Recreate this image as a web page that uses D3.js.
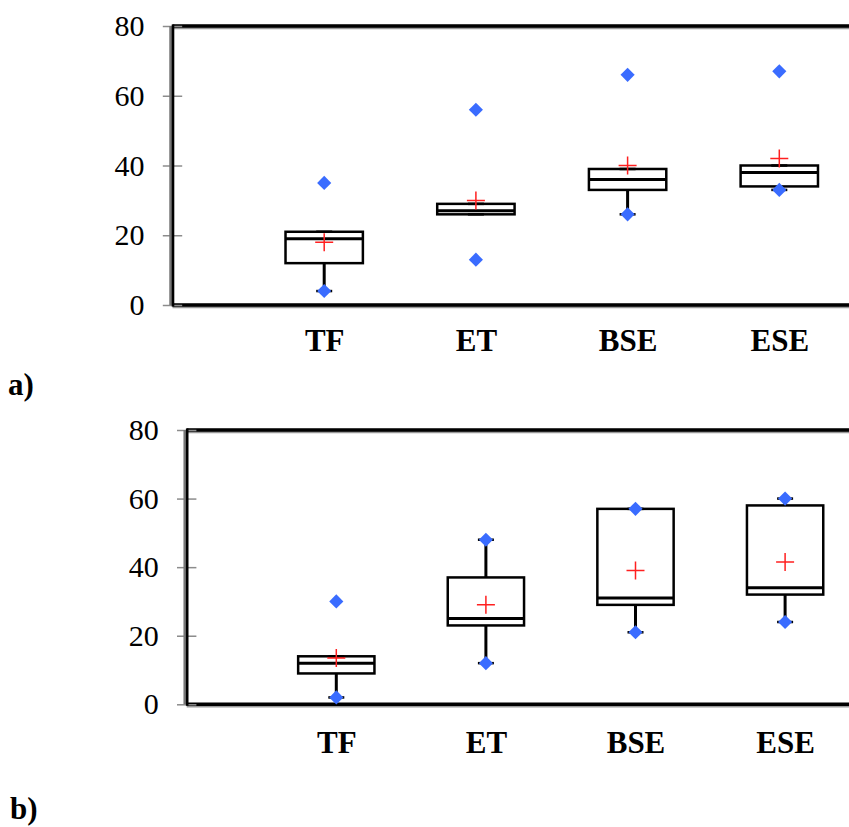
<!DOCTYPE html>
<html>
<head>
<meta charset="utf-8">
<script src="https://cdn.jsdelivr.net/npm/d3@7"></script>
<style>
  html, body { margin: 0; padding: 0; background: #fff; }
  svg { display: block; }
  text { font-family: "Liberation Serif", "Times New Roman", Times, serif; fill: #000; }
</style>
</head>
<body>
<svg id="svg" width="849" height="827"></svg>
<script>
const categories = ['TF', 'ET', 'BSE', 'ESE'];
const yTicks = [0, 20, 40, 60, 80];

// panel a)
const aMin = [4, 13, 26, 33];
const aMax = [35, 56, 66, 67];
const aQ1 = [12, 26, 33, 34];
const aMedian = [19, 27, 36, 38];
const aQ3 = [21, 29, 39, 40];
const aMean = [18, 30, 40, 42];
const aWhiskerLow = [4, 26, 26, 33];
const aWhiskerHigh = [21, 29, 39, 40];

// panel b)
const bMin = [2, 12, 21, 24];
const bMax = [30, 48, 57, 60];
const bQ1 = [9, 23, 29, 32];
const bMedian = [12, 25, 31, 34];
const bQ3 = [14, 37, 57, 58];
const bMean = [13.5, 29, 39, 41.5];
const bWhiskerLow = [2, 12, 21, 24];
const bWhiskerHigh = [14, 48, 57, 60];

const FONT = '"Liberation Serif", "Times New Roman", Times, serif';
const svg = d3.select('#svg');

drawPanel({
  tag: 'a)', tagX: 8, tagY: 395,
  axisX: 172.5, top: 26, bottom: 305, step: 151.7, labelY: 351,
  min: aMin, max: aMax, q1: aQ1, median: aMedian, q3: aQ3, mean: aMean,
  wLow: aWhiskerLow, wHigh: aWhiskerHigh,
});

drawPanel({
  tag: 'b)', tagX: 10, tagY: 819,
  axisX: 186.7, top: 430, bottom: 704.3, step: 149.6, labelY: 753,
  min: bMin, max: bMax, q1: bQ1, median: bMedian, q3: bQ3, mean: bMean,
  wLow: bWhiskerLow, wHigh: bWhiskerHigh,
});

function drawPanel(p) {
  const g = svg.append('g');
  const y = d3.scaleLinear().domain([0, 80]).range([p.bottom, p.top]);
  const x = d3.scalePoint().domain(categories)
    .range([p.axisX, p.axisX + 5 * p.step]).padding(1);
  const half = p.step * 0.255;

  const rows = categories.map((c, i) => ({
    cat: c, min: p.min[i], max: p.max[i], q1: p.q1[i], median: p.median[i],
    q3: p.q3[i], mean: p.mean[i], wLow: p.wLow[i], wHigh: p.wHigh[i],
  }));

  // frame: top and bottom rules (open on the right)
  [p.top, p.bottom].forEach(yy => {
    g.append('line').attr('x1', p.axisX).attr('x2', 849)
      .attr('y1', yy + 1).attr('y2', yy + 1)
      .attr('stroke', '#999').attr('stroke-width', 4.5);
    g.append('line').attr('x1', p.axisX).attr('x2', 849)
      .attr('y1', yy).attr('y2', yy)
      .attr('stroke', '#000').attr('stroke-width', 3.6);
  });

  // y axis with ticks crossing the spine
  const yAxis = g.append('g')
    .attr('transform', `translate(${p.axisX + 9.7},0)`)
    .call(d3.axisLeft(y).tickValues(yTicks).tickSize(19.4).tickPadding(18.3));
  yAxis.attr('font-family', null).attr('font-size', null);
  yAxis.select('.domain').remove();
  yAxis.selectAll('.tick line').attr('stroke', '#8c8c8c').attr('stroke-width', 1.5);
  yAxis.selectAll('.tick text').style('font-size', '30px').style('font-family', FONT);

  g.append('line').attr('x1', p.axisX - 1).attr('x2', p.axisX - 1)
    .attr('y1', p.top).attr('y2', p.bottom)
    .attr('stroke', '#777').attr('stroke-width', 4.5);
  g.append('line').attr('x1', p.axisX + 0.5).attr('x2', p.axisX + 0.5)
    .attr('y1', p.top - 1.5).attr('y2', p.bottom + 1.5)
    .attr('stroke', '#000').attr('stroke-width', 2.6);

  // category labels
  const xAxis = g.append('g')
    .attr('transform', `translate(0,${p.labelY})`)
    .call(d3.axisBottom(x).tickSize(0).tickPadding(0));
  xAxis.attr('font-family', null).attr('font-size', null);
  xAxis.select('.domain').remove();
  xAxis.selectAll('.tick text')
    .attr('y', 0).attr('dy', 0)
    .style('font-size', '31px').style('font-weight', 'bold').style('font-family', FONT);

  // panel tag
  g.append('text').attr('x', p.tagX).attr('y', p.tagY)
    .style('font-size', '31px').style('font-weight', 'bold').style('font-family', FONT)
    .text(p.tag);

  const box = g.append('g').selectAll('g').data(rows).join('g');

  // whiskers
  box.append('line')
    .attr('x1', d => x(d.cat)).attr('x2', d => x(d.cat))
    .attr('y1', d => y(d.q1)).attr('y2', d => y(d.wLow))
    .attr('stroke', '#000').attr('stroke-width', 3);
  box.append('line')
    .attr('x1', d => x(d.cat)).attr('x2', d => x(d.cat))
    .attr('y1', d => y(d.q3)).attr('y2', d => y(d.wHigh))
    .attr('stroke', '#000').attr('stroke-width', 3);
  // caps
  box.selectAll('line.cap')
    .data(d => [{ cat: d.cat, v: d.wLow }, { cat: d.cat, v: d.wHigh }])
    .join('line').attr('class', 'cap')
    .attr('x1', d => x(d.cat) - 8).attr('x2', d => x(d.cat) + 8)
    .attr('y1', d => y(d.v)).attr('y2', d => y(d.v))
    .attr('stroke', '#000').attr('stroke-width', 2.5);

  // box
  box.append('rect')
    .attr('x', d => x(d.cat) - half).attr('width', half * 2)
    .attr('y', d => y(d.q3)).attr('height', d => y(d.q1) - y(d.q3))
    .attr('fill', 'none').attr('stroke', '#000').attr('stroke-width', 2.5);
  box.append('line')
    .attr('x1', d => x(d.cat) - half).attr('x2', d => x(d.cat) + half)
    .attr('y1', d => y(d.median)).attr('y2', d => y(d.median))
    .attr('stroke', '#000').attr('stroke-width', 3);

  // min / max diamonds
  const diamond = d3.symbol(d3.symbolSquare, 100);
  box.selectAll('path.ext')
    .data(d => [{ cat: d.cat, v: d.min }, { cat: d.cat, v: d.max }])
    .join('path').attr('class', 'ext')
    .attr('d', diamond)
    .attr('transform', d => `translate(${x(d.cat)},${y(d.v)}) rotate(45)`)
    .attr('fill', '#3a6cff');

  // mean cross
  box.append('path')
    .attr('d', d => {
      const cx = x(d.cat), cy = y(d.mean);
      return `M${cx - 9},${cy}H${cx + 9}M${cx},${cy - 9}V${cy + 9}`;
    })
    .attr('stroke', '#ff2020').attr('stroke-width', 1.5).attr('fill', 'none');
}
</script>
</body>
</html>
